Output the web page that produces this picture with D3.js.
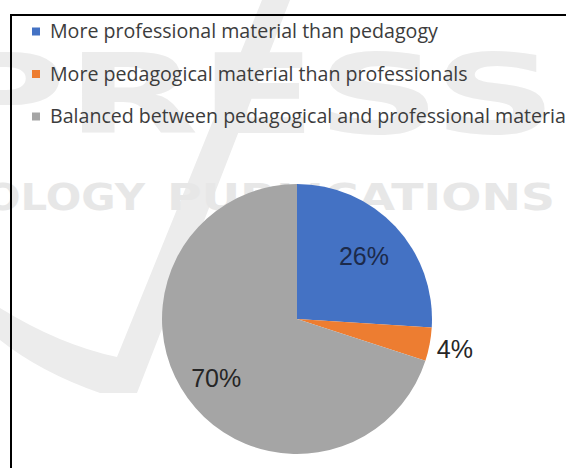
<!DOCTYPE html>
<html>
<head>
<meta charset="utf-8">
<script src="https://cdn.jsdelivr.net/npm/d3@7"></script>
<style>
  html, body { margin: 0; padding: 0; background: #fff; }
  svg { display: block; }
</style>
</head>
<body>
<svg id="chart" width="566" height="468"></svg>
<script>
// Survey shares, clockwise from 12 o'clock
const categories = [
  "More professional material than pedagogy",
  "More pedagogical material than professionals",
  "Balanced between pedagogical and professional material"
];
const values = [26, 4, 70];
const labels = ["26%", "4%", "70%"];
const colors = ["#4472C4", "#ED7D31", "#A5A5A5"];
// radial position of each data label, as a fraction of the pie radius
const labelRadius = [0.68, 1.19, 0.74];

const svg = d3.select("#chart");

// publisher watermark behind the chart
const wm = svg.append("g").attr("fill", "#ececec");
wm.append("path")
  .attr("d", "M0,308 Q60,345 117,357 L262,0 L290,0 L137,393 L100,393 Q40,372 0,340 Z");
wm.append("text")
  .attr("x", -60).attr("y", 133)
  .attr("font-family", "DejaVu Sans").attr("font-weight", "bold")
  .attr("font-size", 110)
  .attr("textLength", 617).attr("lengthAdjust", "spacingAndGlyphs")
  .text("PRESS");
const wm2 = svg.append("g").attr("fill", "#e7e7e7");
wm2.append("text")
  .attr("x", -15).attr("y", 210)
  .attr("font-family", "DejaVu Sans").attr("font-weight", "bold")
  .attr("font-size", 37)
  .attr("textLength", 160).attr("lengthAdjust", "spacingAndGlyphs")
  .text("OLOGY");
wm2.append("text")
  .attr("x", 167).attr("y", 210)
  .attr("font-family", "DejaVu Sans").attr("font-weight", "bold")
  .attr("font-size", 37)
  .attr("textLength", 388).attr("lengthAdjust", "spacingAndGlyphs")
  .text("PUBLICATIONS");

// chart frame
svg.append("rect")
  .attr("x", 11).attr("y", 15)
  .attr("width", 700).attr("height", 600)
  .attr("fill", "none").attr("stroke", "#000").attr("stroke-width", 2);

// legend
const legendY = d3.scalePoint().domain(categories).range([32, 117]);
const legend = svg.append("g");
const legendTexts = [];
categories.forEach((c, i) => {
  const y = legendY(c);
  legend.append("rect")
    .attr("x", 32).attr("y", y - 4.5)
    .attr("width", 8).attr("height", 8)
    .attr("fill", colors[i]);
  legendTexts.push(legend.append("text")
    .attr("x", 50).attr("y", y + 6)
    .attr("font-family", "Open Sans").attr("font-size", 16.5)
    .attr("fill", "#3c3c3c")
    .text(c));
});
// size the legend lettering so the first entry runs to x = 438
{
  const w0 = legendTexts[0].node().getComputedTextLength();
  const fs = 16.5 * 388 / w0;
  legendTexts.forEach(t => t.attr("font-size", fs));
}

// pie
const cx = 297, cy = 319, R = 135;
const pie = d3.pie().sort(null).value(d => d)(values);
const arc = d3.arc().innerRadius(0).outerRadius(R);
const g = svg.append("g").attr("transform", `translate(${cx},${cy})`);
g.selectAll("path.slice").data(pie).join("path")
  .attr("class", "slice")
  .attr("d", arc)
  .attr("fill", (d, i) => colors[i]);

// data labels
g.selectAll("text.lbl").data(pie).join("text")
  .attr("class", "lbl")
  .attr("transform", (d, i) => {
    const r = R * labelRadius[i];
    const a = (d.startAngle + d.endAngle) / 2;
    return `translate(${Math.sin(a) * r},${-Math.cos(a) * r})`;
  })
  .attr("text-anchor", "middle")
  .attr("dy", "0.36em")
  .attr("font-family", "Liberation Sans")
  .attr("font-size", 25)
  .attr("fill", (d, i) => i === 0 ? "#1c2a4a" : "#262626")
  .text((d, i) => labels[i]);
</script>
</body>
</html>
